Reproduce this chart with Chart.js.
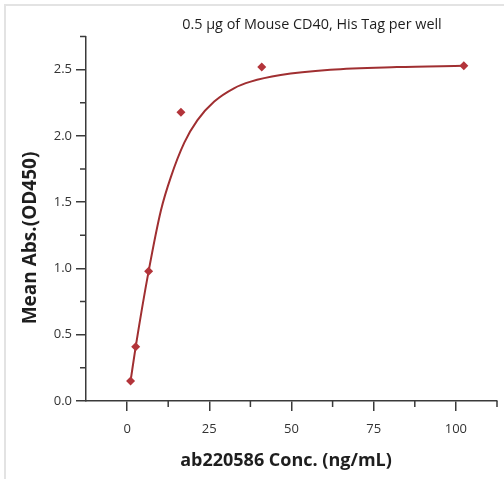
<!DOCTYPE html>
<html>
<head>
<meta charset="utf-8">
<script src="https://cdn.jsdelivr.net/npm/chart.js@4/dist/chart.umd.min.js"></script>
<style>
  body { margin: 0; background: #fff; }
  .wrap { position: relative; width: 504px; height: 479px; }
  .frame { position: absolute; left: 4px; top: 4px; right: 0; bottom: 0; border-left: 2px solid #e3e3e3; border-top: 2px solid #e3e3e3; }
  canvas { position: absolute; left: 0; top: 0; }
</style>
</head>
<body>
<div class="wrap">
  <div class="frame"></div>
  <canvas id="myChart" width="504" height="479"></canvas>
</div>
<script>
// measured points
const concs = [1.05, 2.62, 6.55, 16.38, 40.96, 102.4];
const absorb = [0.15, 0.41, 0.98, 2.18, 2.52, 2.53];

// fitted curve
const fitX = [1.05, 2.62, 6.55, 10.3, 13.3, 17.4, 21.4, 26.5, 32.5, 37.6, 46.7, 61.8, 82.1, 102.4];
const fitY = [0.15, 0.41, 0.98, 1.44, 1.69, 1.95, 2.12, 2.26, 2.36, 2.41, 2.46, 2.50, 2.52, 2.53];

const xTicks = [0, 25, 50, 75, 100];
const xMinor = [12.5, 37.5, 62.5, 87.5, 112.5];
const yTicks = [0, 0.5, 1.0, 1.5, 2.0, 2.5];
const yMinor = [0.25, 0.75, 1.25, 1.75, 2.25, 2.75];

const chartTitle = '0.5 μg of Mouse CD40, His Tag per well';
const xTitle = 'ab220586 Conc. (ng/mL)';
const yTitle = 'Mean Abs.(OD450)';

const axisColor = '#3a3a3a';
const fontFam = '"Open Sans", sans-serif';

const toXY = (xs, ys) => xs.map((v, i) => ({ x: v, y: ys[i] }));

// minor ticks + titles
const extras = {
  id: 'extras',
  afterDraw(chart) {
    const { ctx, scales: { x, y } } = chart;
    ctx.save();
    ctx.strokeStyle = axisColor;
    ctx.lineWidth = 1.5;
    ctx.beginPath();
    xMinor.forEach(v => {
      const px = x.getPixelForValue(v);
      ctx.moveTo(px, y.bottom);
      ctx.lineTo(px, y.bottom + 6);
    });
    yMinor.forEach(v => {
      const py = y.getPixelForValue(v);
      ctx.moveTo(x.left, py);
      ctx.lineTo(x.left - 6, py);
    });
    ctx.stroke();

    ctx.fillStyle = '#1e1e1e';
    ctx.textAlign = 'center';
    ctx.textBaseline = 'middle';
    ctx.font = '14.4px ' + fontFam;
    ctx.fillText(chartTitle, 312, 25);

    ctx.font = 'bold 18px ' + fontFam;
    ctx.fillText(xTitle, 286, 461);

    ctx.translate(31, 238);
    ctx.rotate(-Math.PI / 2);
    ctx.font = 'bold 19px ' + fontFam;
    ctx.fillText(yTitle, 0, 0);
    ctx.restore();
  }
};

const ctx = document.getElementById('myChart').getContext('2d');
const myChart = new Chart(ctx, {
  type: 'scatter',
  data: {
    datasets: [
      {
        data: toXY(concs, absorb),
        pointStyle: 'rectRot',
        pointRadius: 4.5,
        backgroundColor: '#b3343a',
        borderWidth: 0,
        order: 0
      },
      {
        data: toXY(fitX, fitY),
        showLine: true,
        pointRadius: 0,
        borderColor: '#a02f31',
        borderWidth: 2,
        cubicInterpolationMode: 'monotone',
        order: 1
      }
    ]
  },
  options: {
    responsive: false,
    animation: false,
    layout: { padding: { top: 36.6, right: 7, left: 0, bottom: 0 } },
    plugins: { legend: { display: false }, tooltip: { enabled: false } },
    scales: {
      x: {
        type: 'linear',
        min: -12.5,
        max: 112.5,
        afterBuildTicks: s => { s.ticks = xTicks.map(v => ({ value: v })); },
        afterFit: s => { s.height = 78; },
        grid: { drawOnChartArea: false, tickLength: 10, color: axisColor, lineWidth: 1.5 },
        border: { color: axisColor, width: 1.5 },
        ticks: { font: { family: fontFam, size: 13 }, color: '#333', padding: 10, maxRotation: 0 }
      },
      y: {
        min: 0,
        max: 2.75,
        afterBuildTicks: s => { s.ticks = yTicks.map(v => ({ value: v })); },
        afterFit: s => { s.width = 86; },
        grid: { drawOnChartArea: false, tickLength: 10, color: axisColor, lineWidth: 1.5 },
        border: { color: axisColor, width: 1.5 },
        ticks: { font: { family: fontFam, size: 13 }, color: '#333', padding: 4, callback: v => v.toFixed(1) }
      }
    }
  },
  plugins: [extras]
});
</script>
</body>
</html>
